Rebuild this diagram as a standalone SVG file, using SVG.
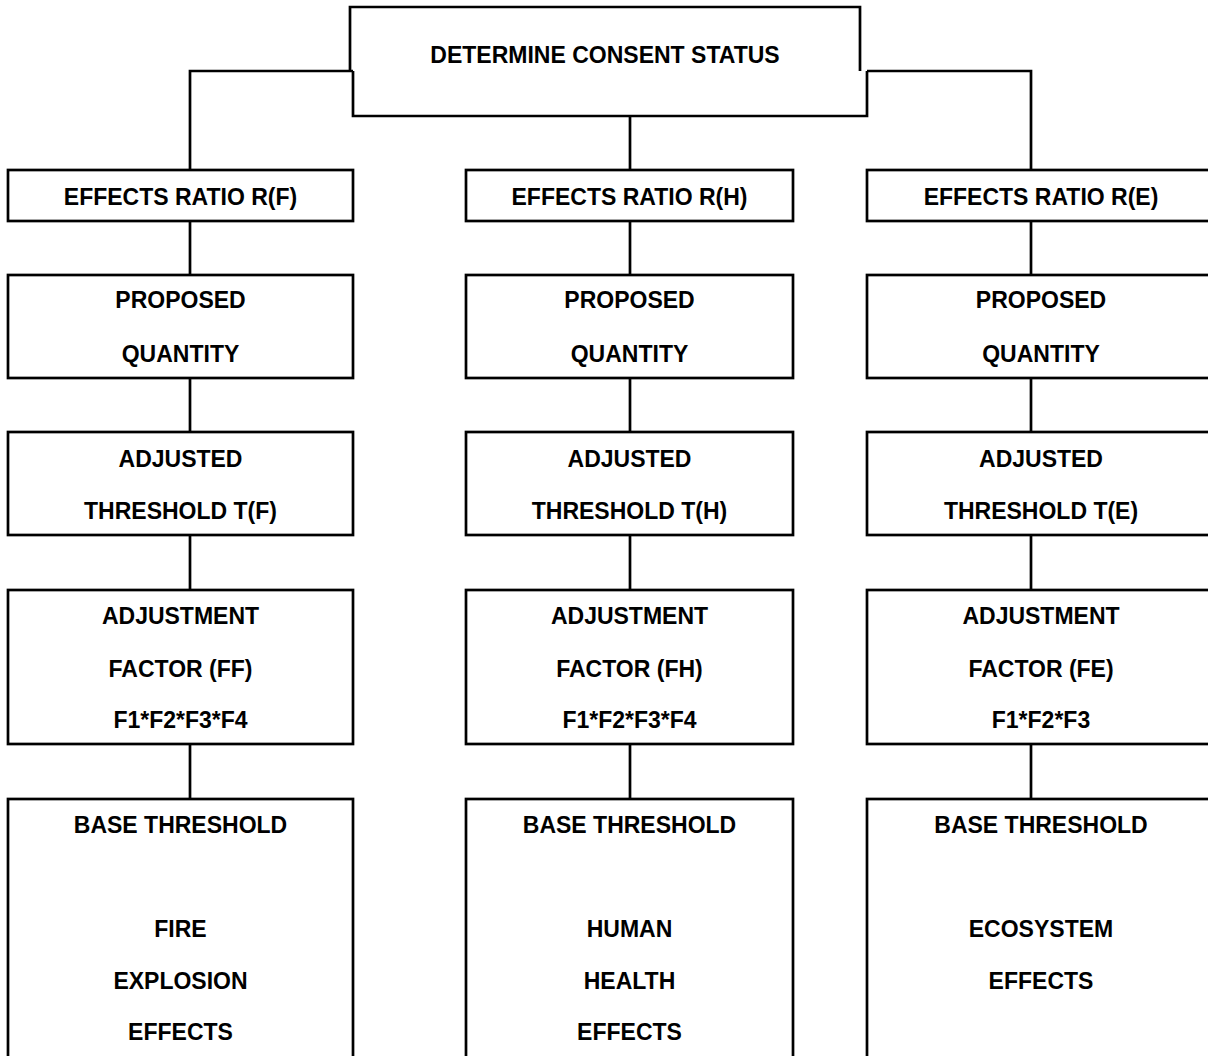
<svg xmlns="http://www.w3.org/2000/svg" width="1208" height="1056" viewBox="0 0 1208 1056">
<style>
.b{fill:#fff;stroke:#000;stroke-width:2.7}
.c{fill:none;stroke:#000;stroke-width:2.7}
text{font-family:"Liberation Sans",Arial,sans-serif;font-weight:bold;font-size:23px;fill:#000;text-anchor:middle}
</style>
<rect width="1208" height="1056" fill="#fff"/>
<g id="connectors">
<path class="c" d="M190,170 V71 H353"/>
<path class="c" d="M867,71 H1031 V170"/>
<path class="c" d="M630,116 V170"/>
<path class="c" d="M190,221 V275 M190,378 V432 M190,535 V590 M190,744 V799"/>
<path class="c" d="M630,221 V275 M630,378 V432 M630,535 V590 M630,744 V799"/>
<path class="c" d="M1031,221 V275 M1031,378 V432 M1031,535 V590 M1031,744 V799"/>
</g>
<g id="top">
<path class="c" d="M350,71 V7 H860 V71 M353,71 V116 H867 V71"/>
<text x="605" y="63">DETERMINE CONSENT STATUS</text>
</g>
<g id="ratioF"><rect class="b" x="8" y="170" width="345" height="51"/><text x="180.5" y="205">EFFECTS RATIO R(F)</text></g>
<g id="ratioH"><rect class="b" x="466" y="170" width="327" height="51"/><text x="629.5" y="205">EFFECTS RATIO R(H)</text></g>
<g id="ratioE"><rect class="b" x="867" y="170" width="350" height="51"/><text x="1041" y="205">EFFECTS RATIO R(E)</text></g>
<g id="qtyF"><rect class="b" x="8" y="275" width="345" height="103"/><text x="180.5" y="308">PROPOSED</text><text x="180.5" y="362">QUANTITY</text></g>
<g id="qtyH"><rect class="b" x="466" y="275" width="327" height="103"/><text x="629.5" y="308">PROPOSED</text><text x="629.5" y="362">QUANTITY</text></g>
<g id="qtyE"><rect class="b" x="867" y="275" width="350" height="103"/><text x="1041" y="308">PROPOSED</text><text x="1041" y="362">QUANTITY</text></g>
<g id="adjF"><rect class="b" x="8" y="432" width="345" height="103"/><text x="180.5" y="467">ADJUSTED</text><text x="180.5" y="519">THRESHOLD T(F)</text></g>
<g id="adjH"><rect class="b" x="466" y="432" width="327" height="103"/><text x="629.5" y="467">ADJUSTED</text><text x="629.5" y="519">THRESHOLD T(H)</text></g>
<g id="adjE"><rect class="b" x="867" y="432" width="350" height="103"/><text x="1041" y="467">ADJUSTED</text><text x="1041" y="519">THRESHOLD T(E)</text></g>
<g id="facF"><rect class="b" x="8" y="590" width="345" height="154"/><text x="180.5" y="624">ADJUSTMENT</text><text x="180.5" y="677">FACTOR (FF)</text><text x="180.5" y="728">F1*F2*F3*F4</text></g>
<g id="facH"><rect class="b" x="466" y="590" width="327" height="154"/><text x="629.5" y="624">ADJUSTMENT</text><text x="629.5" y="677">FACTOR (FH)</text><text x="629.5" y="728">F1*F2*F3*F4</text></g>
<g id="facE"><rect class="b" x="867" y="590" width="350" height="154"/><text x="1041" y="624">ADJUSTMENT</text><text x="1041" y="677">FACTOR (FE)</text><text x="1041" y="728">F1*F2*F3</text></g>
<g id="baseF"><rect class="b" x="8" y="799" width="345" height="300"/><text x="180.5" y="833">BASE THRESHOLD</text><text x="180.5" y="937">FIRE</text><text x="180.5" y="989">EXPLOSION</text><text x="180.5" y="1040">EFFECTS</text></g>
<g id="baseH"><rect class="b" x="466" y="799" width="327" height="300"/><text x="629.5" y="833">BASE THRESHOLD</text><text x="629.5" y="937">HUMAN</text><text x="629.5" y="989">HEALTH</text><text x="629.5" y="1040">EFFECTS</text></g>
<g id="baseE"><rect class="b" x="867" y="799" width="350" height="300"/><text x="1041" y="833">BASE THRESHOLD</text><text x="1041" y="937">ECOSYSTEM</text><text x="1041" y="989">EFFECTS</text></g>
</svg>
